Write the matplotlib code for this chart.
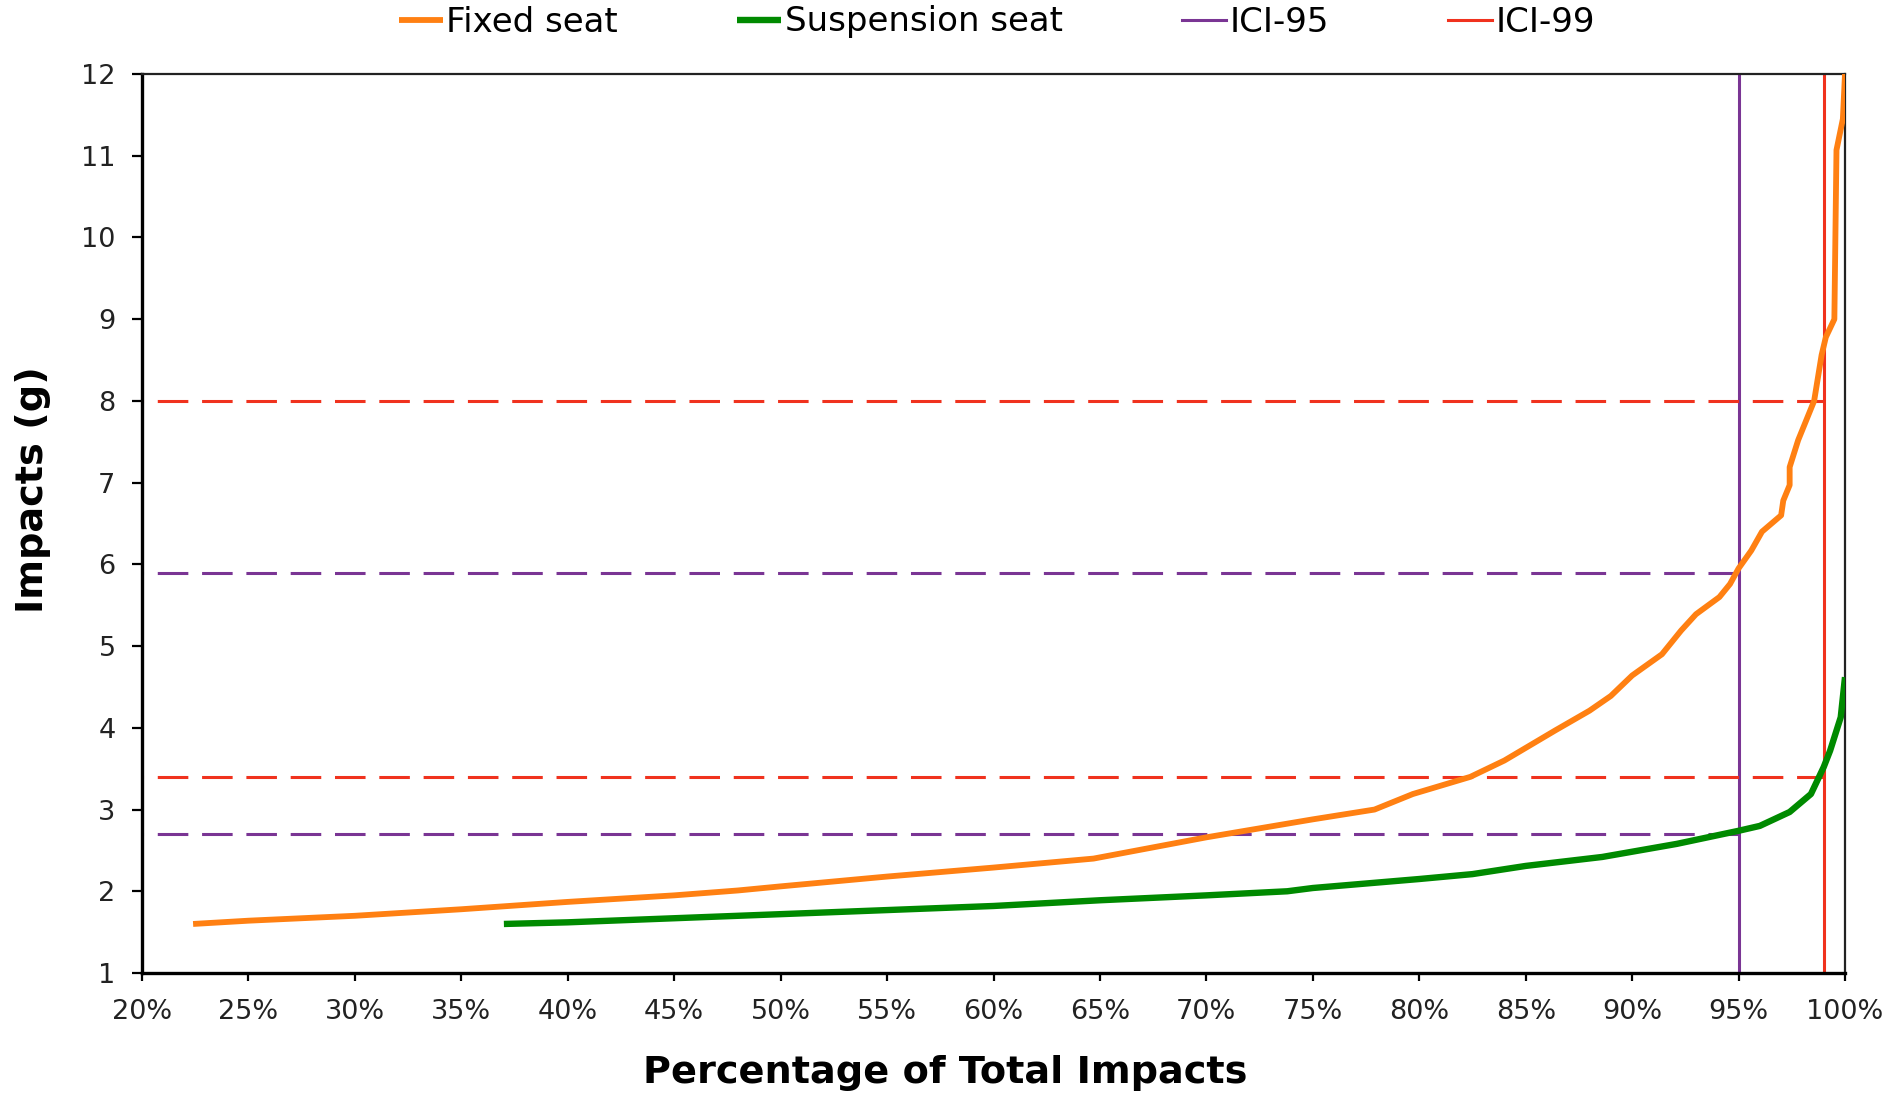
"""Cumulative impact distribution for fixed vs suspension seats."""

from __future__ import annotations

import matplotlib

matplotlib.use("Agg")
import matplotlib.pyplot as plt

# Cumulative share of impacts (%) and impact level (g), fixed seat.
fixed_pct = [22.4, 25, 30, 35, 40, 45, 48, 50, 55, 60, 64.7, 70, 75, 77.9, 79.7,
             82.4, 84.0, 86.4, 88.0, 89.0, 90.0, 91.4, 92.3, 93.0, 94.1, 94.6,
             95.0, 95.6, 96.1, 97.0, 97.1, 97.4, 97.4, 97.8, 98.55, 98.9, 99.1,
             99.5, 99.6, 99.9, 100]
fixed_g = [1.6, 1.64, 1.70, 1.78, 1.87, 1.95, 2.01, 2.06, 2.18, 2.29, 2.40, 2.66,
           2.88, 3.0, 3.19, 3.4, 3.6, 3.97, 4.21, 4.39, 4.64, 4.9, 5.19, 5.39,
           5.6, 5.76, 5.95, 6.17, 6.4, 6.6, 6.78, 6.97, 7.19, 7.52, 8.0, 8.56,
           8.78, 9.0, 11.07, 11.45, 12]

# Same for the suspension seat.
susp_pct = [37.0, 40, 45, 50, 55, 60, 65, 70, 73.8, 75, 80, 82.5, 85, 88.6, 92.1,
            95.0, 96.0, 97.4, 98.4, 99.0, 99.3, 99.8, 100]
susp_g = [1.6, 1.62, 1.67, 1.72, 1.77, 1.82, 1.89, 1.95, 2.0, 2.04, 2.15, 2.21,
          2.31, 2.42, 2.58, 2.74, 2.8, 2.97, 3.19, 3.52, 3.72, 4.13, 4.62]

# Impact control indices: percentile and the g level each seat reaches there.
ici_pct = {"ICI-95": 95, "ICI-99": 99}
ici_fixed_g = {"ICI-95": 5.9, "ICI-99": 8.0}
ici_susp_g = {"ICI-95": 2.7, "ICI-99": 3.4}

x_ticks = list(range(20, 101, 5))
y_ticks = list(range(1, 13))

ORANGE = "#FF8012"
GREEN = "#008A00"
PURPLE = "#7A3594"
RED = "#F0321E"
ici_colors = {"ICI-95": PURPLE, "ICI-99": RED}

W, H = 1891, 1093
fig = plt.figure(figsize=(W / 100, H / 100), dpi=100)
ax = fig.add_axes([142 / W, 1 - 973 / H, (1845 - 142) / W, (973 - 74) / H])

x_min = x_ticks[0]
for name, pct in ici_pct.items():
    color = ici_colors[name]
    for level in (ici_fixed_g[name], ici_susp_g[name]):
        ax.plot([x_min, pct], [level, level], color=color, lw=2.2,
                linestyle=(9.5, (10, 4.5)), zorder=2)
    ax.axvline(pct, color=color, lw=2.2, zorder=2, label=name)

ax.plot(fixed_pct, fixed_g, color=ORANGE, lw=4.2, solid_capstyle="butt",
        zorder=3, label="Fixed seat")
ax.plot(susp_pct, susp_g, color=GREEN, lw=4.6, solid_capstyle="butt",
        zorder=3, label="Suspension seat")

ax.set_xlim(x_ticks[0], x_ticks[-1])
ax.set_ylim(y_ticks[0], y_ticks[-1])
ax.set_xticks(x_ticks)
ax.set_xticklabels([f"{t}%" for t in x_ticks])
ax.set_yticks(y_ticks)
ax.tick_params(axis="x", direction="out", length=6, width=1.6, pad=13,
               labelsize=19.5, labelcolor="#222222")
ax.tick_params(axis="y", direction="out", length=7, width=1.6, pad=12,
               labelsize=19.5, labelcolor="#222222")
for side in ("left", "bottom"):
    ax.spines[side].set_linewidth(2.4)
for side in ("top", "right"):
    ax.spines[side].set_linewidth(1.6)
    ax.spines[side].set_color("#222222")

fig.text(0.5, 1 - 1073 / H, "Percentage of Total Impacts", ha="center",
         va="center", fontsize=27.5, fontweight="bold")
fig.text(33 / W, 1 - 490 / H, "Impacts (g)", ha="center", va="center",
         rotation=90, fontsize=27.5, fontweight="bold")

handles, labels = ax.get_legend_handles_labels()
order = ["Fixed seat", "Suspension seat", "ICI-95", "ICI-99"]
by_label = dict(zip(labels, handles))
fig.legend([by_label[k] for k in order], order, loc="center",
           bbox_to_anchor=(997 / W, 1 - 22 / H), ncol=4, frameon=False,
           fontsize=24.5, handlelength=1.3, handletextpad=0.1,
           columnspacing=3.5, borderpad=0, borderaxespad=0)

fig.savefig("out.png", dpi=100)
plt.close(fig)
